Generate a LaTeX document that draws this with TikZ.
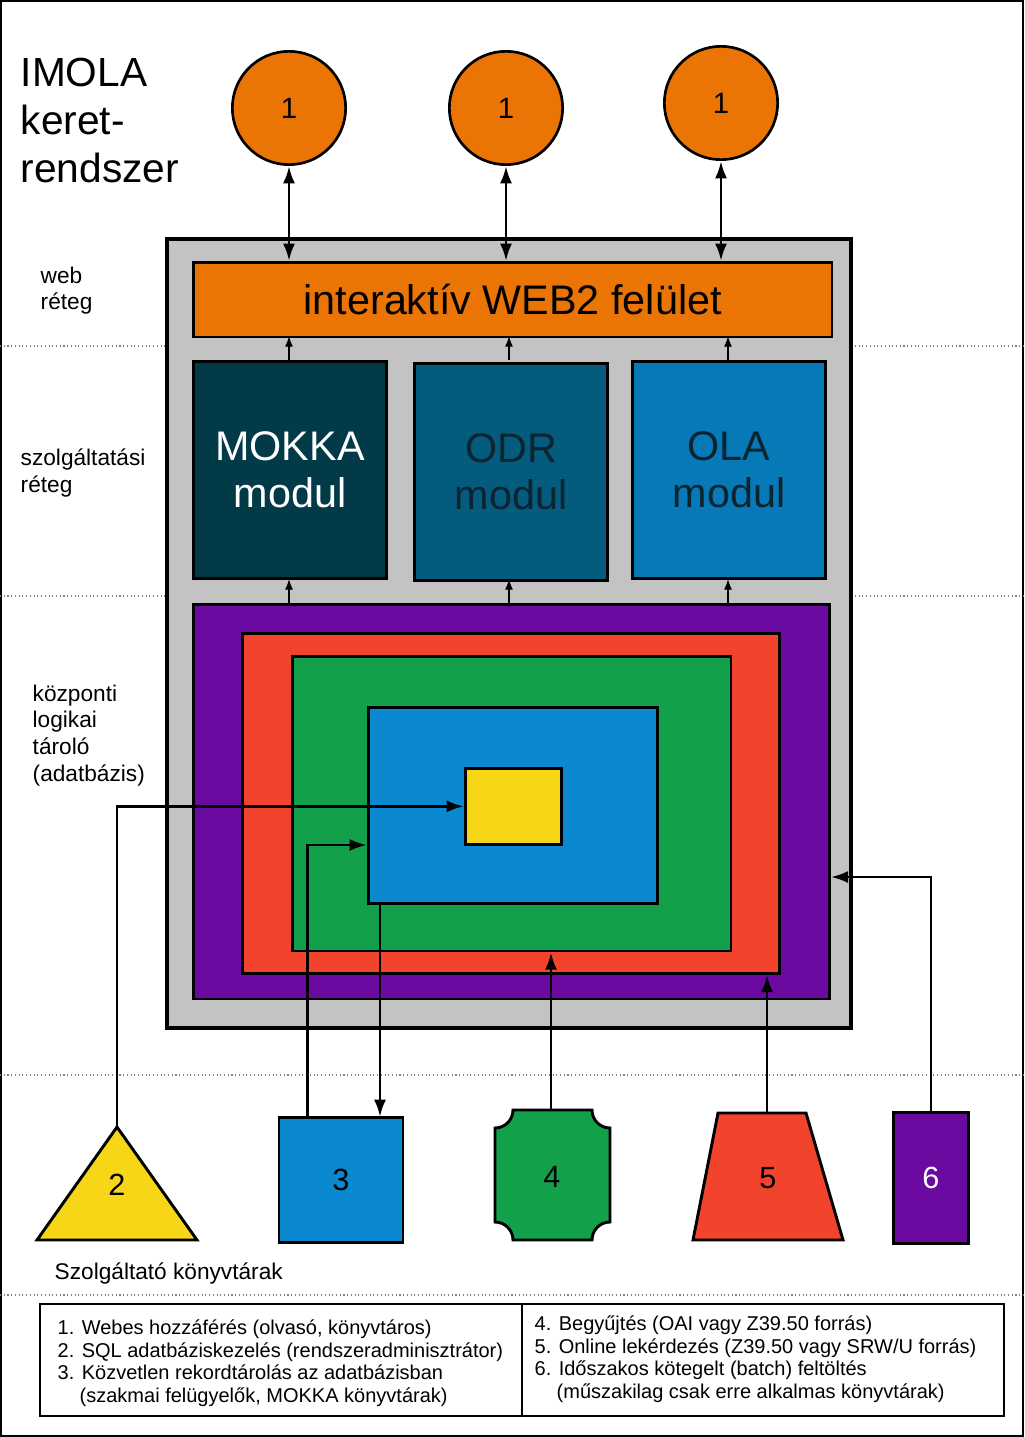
\documentclass[tikz,border=0pt]{standalone}
\usepackage{fontspec}
\setmainfont{Liberation Sans}
\usetikzlibrary{arrows.meta,positioning}
\definecolor{gr}{HTML}{C3C3C3}
\definecolor{orng}{HTML}{EA7404}
\definecolor{mokka}{HTML}{033A48}
\definecolor{odr}{HTML}{045B7D}
\definecolor{ola}{HTML}{0779B6}
\definecolor{purp}{HTML}{6A0AA0}
\definecolor{rd}{HTML}{F2432D}
\definecolor{grn}{HTML}{13A04B}
\definecolor{blu}{HTML}{0A88D0}
\definecolor{ylw}{HTML}{F6D616}
\definecolor{dtxt}{HTML}{0B2430}
\tikzset{
  box/.style={draw=black,line width=2pt,inner sep=0pt,anchor=north west},
  mod/.style={box,minimum width=145pt,minimum height=163pt,font=\fontsize{31}{35}\selectfont,align=center},
  usr/.style={circle,draw=black,line width=2pt,fill=orng,minimum size=85pt,font=\fontsize{22}{24}\selectfont},
  lib/.style={draw=black,line width=2.2pt},
  num/.style={font=\fontsize{23}{25}\selectfont},
  lay/.style={font=\fontsize{17}{20}\selectfont,align=left,anchor=north west},
  sep/.style={gray,dotted,line width=0.8pt},
  conn/.style={line width=2.2pt,-{Latex[length=13pt,width=9pt]}},
  up/.style={line width=1pt,-{Latex[length=8pt,width=6pt]}}
}
\begin{document}
\begin{tikzpicture}[x=0.75pt,y=-0.75pt]
\useasboundingbox (0,0) rectangle (1024,1437);
\draw[line width=1pt] (1,1) rectangle (1023,1436);
% layer separators
\foreach \yy in {346,596,1075,1295}
  \draw[sep] (0,\yy) -- (1024,\yy);
\node[lay,font=\fontsize{30.5}{36}\selectfont] at (16,53) {IMOLA\\keret-\\rendszer};
\node[lay] at (36,262) {web\\réteg};
\node[lay] at (16,444) {szolgáltatási\\réteg};
\node[lay] at (28,680) {központi\\logikai\\tároló\\(adatbázis)};
% frame
\node[box,line width=3pt,fill=gr,minimum width=513pt,minimum height=592pt] (frame) at (165,237) {};
\node[box,fill=orng,minimum width=479pt,minimum height=56pt,font=\fontsize{31}{34}\selectfont] (web) at (192,261) {interaktív WEB2 felület};
\node[mod,fill=mokka,text=white] (mokka) at (192,360) {MOKKA\\modul};
\node[mod,fill=odr,text=dtxt] (odr) at (413,362) {ODR\\modul};
\node[mod,fill=ola,text=dtxt] (ola) at (631,360) {OLA\\modul};
% nested storage
\node[box,fill=purp,minimum width=477pt,minimum height=296pt] (db) at (192,603) {};
\node[box,fill=rd,minimum width=403pt,minimum height=255pt] (dbr) at (241,632) {};
\node[box,fill=grn,minimum width=329pt,minimum height=221pt] (dbg) at (291,655) {};
\node[box,fill=blu,minimum width=217pt,minimum height=147pt] (dbb) at (367,706) {};
\node[box,fill=ylw,minimum width=72pt,minimum height=57pt] (dby) at (464,767) {};
% users
\node[usr] (u1) at (289,108) {1};
\node[usr] (u2) at (506,108) {1};
\node[usr] (u3) at (721,103) {1};
\foreach \u/\x in {u1/289,u2/506,u3/721}{
  \draw[line width=2.2pt,{Latex[length=13pt,width=9pt]}-{Latex[length=13pt,width=9pt]}] (\u) -- (\x,261);
}
\foreach \m/\x in {mokka/289,odr/509,ola/728}{
  \draw[up] (\x,360) -- (\x,336);
  \draw[up] (\x,603) -- (\x,579);
}
% libraries
\draw[lib,fill=ylw] (117,1127) -- (197,1240) -- (37,1240) -- cycle;
\coordinate (l2) at (117,1127);
\node[num] at (117,1185) {2};
\node[box,fill=blu,minimum width=93pt,minimum height=94pt,num,anchor=center] (l3) at (341,1180) {3};
\draw[lib,fill=grn] (513,1110) -- (592,1110) arc[start angle=180,end angle=90,radius=18]
  -- (610,1222) arc[start angle=270,end angle=180,radius=18]
  -- (513,1240) arc[start angle=0,end angle=-90,radius=18]
  -- (495,1128) arc[start angle=90,end angle=0,radius=18] -- cycle;
\coordinate (l4) at (551,1110);
\node[num] at (552,1177) {4};
\draw[lib,fill=rd] (718,1113) -- (806,1113) -- (843,1240) -- (693,1240) -- cycle;
\coordinate (l5) at (767,1113);
\node[num] at (768,1178) {5};
\node[box,fill=purp,minimum width=56pt,minimum height=98pt,text=white,num,anchor=center] (l6) at (931,1178) {6};
% connectors
\draw[conn] (l2) |- (dby.west);
\draw[conn] (l3.north west) ++(30,0) |- (dbb.west |- 0,845);
\draw[conn] (dbb.south west) ++(13,0) -- (380,1117);
\draw[conn] (l4) -- (dbg.south -| l4);
\draw[conn] (l5) -- (dbr.south -| l5);
\draw[conn] (l6.north) |- (db.east |- 0,877);
\node[lay] at (50,1258) {Szolgáltató könyvtárak};
% legend
\draw[line width=1pt] (40,1304) rectangle (1004,1416);
\draw[line width=1pt] (522,1304) -- (522,1416);
\node[lay,font=\fontsize{15}{17}\selectfont] at (53,1315) {1. Webes hozzáférés (olvasó, könyvtáros)\\2. SQL adatbáziskezelés (rendszeradminisztrátor)\\3. Közvetlen rekordtárolás az adatbázisban\\\hspace*{1.1em}(szakmai felügyelők, MOKKA könyvtárak)};
\node[lay,font=\fontsize{15}{17}\selectfont] at (530,1311) {4. Begyűjtés (OAI vagy Z39.50 forrás)\\5. Online lekérdezés (Z39.50 vagy SRW/U forrás)\\6. Időszakos kötegelt (batch) feltöltés\\\hspace*{1.1em}(műszakilag csak erre alkalmas könyvtárak)};
\end{tikzpicture}
\end{document}
